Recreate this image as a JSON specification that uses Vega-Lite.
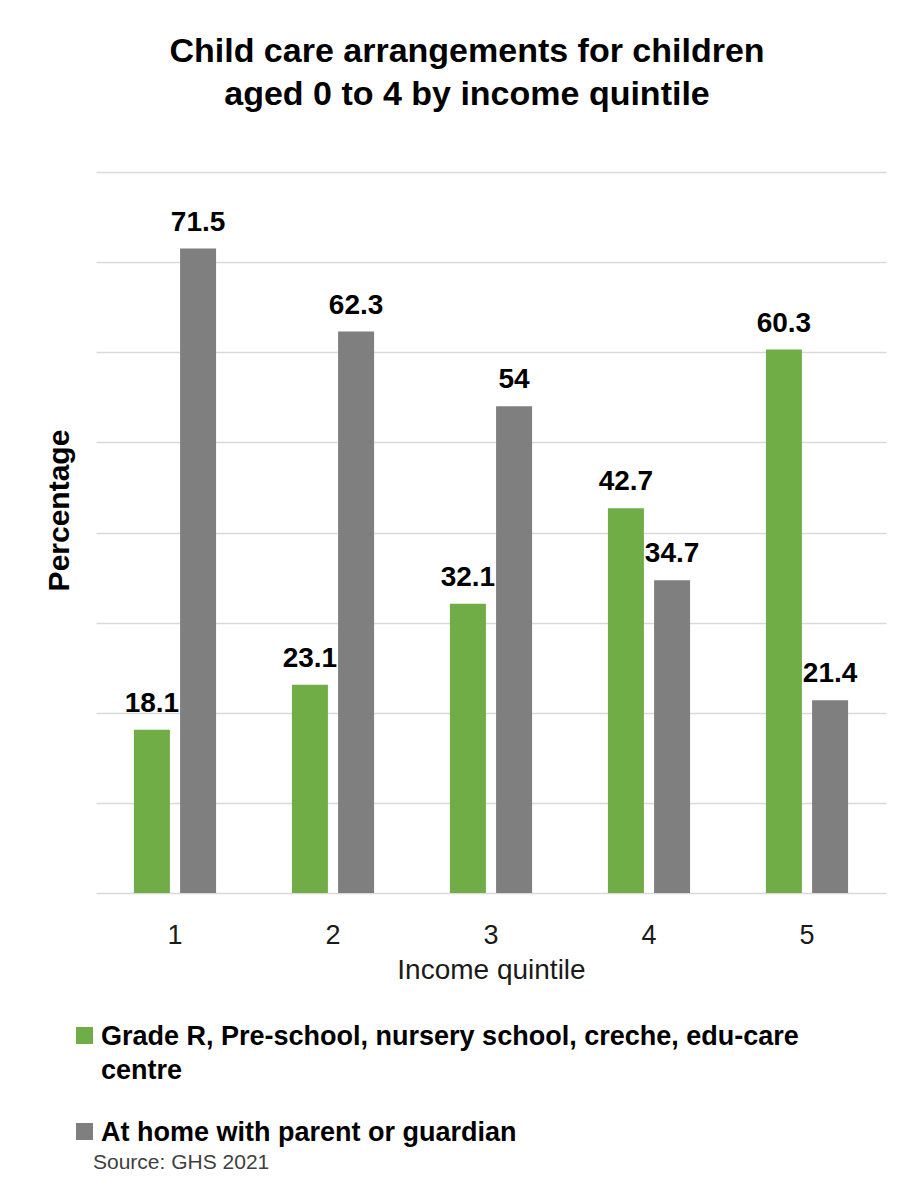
{
  "$schema": "https://vega.github.io/schema/vega-lite/v6.json",
  "width": 790,
  "height": 721,
  "autosize": {"type": "none"},
  "padding": {"left": 96, "top": 172, "right": 18, "bottom": 296},
  "background": "white",
  "config": {"view": {"stroke": null}},
  "title": {
    "text": ["Child care arrangements for children", "aged 0 to 4 by income quintile"],
    "font": "Liberation Sans",
    "fontSize": 34,
    "fontWeight": "bold",
    "color": "#000000",
    "lineHeight": 43,
    "anchor": "middle",
    "frame": "group",
    "dx": -24,
    "offset": 60
  },
  "data": {
    "values": [
      {"quintile": "1", "type": "Grade R, Pre-school, nursery school, creche, edu-care centre", "pct": 18.1},
      {"quintile": "1", "type": "At home with parent or guardian", "pct": 71.5},
      {"quintile": "2", "type": "Grade R, Pre-school, nursery school, creche, edu-care centre", "pct": 23.1},
      {"quintile": "2", "type": "At home with parent or guardian", "pct": 62.3},
      {"quintile": "3", "type": "Grade R, Pre-school, nursery school, creche, edu-care centre", "pct": 32.1},
      {"quintile": "3", "type": "At home with parent or guardian", "pct": 54},
      {"quintile": "4", "type": "Grade R, Pre-school, nursery school, creche, edu-care centre", "pct": 42.7},
      {"quintile": "4", "type": "At home with parent or guardian", "pct": 34.7},
      {"quintile": "5", "type": "Grade R, Pre-school, nursery school, creche, edu-care centre", "pct": 60.3},
      {"quintile": "5", "type": "At home with parent or guardian", "pct": 21.4}
    ]
  },
  "encoding": {
    "x": {
      "field": "quintile",
      "type": "nominal",
      "scale": {"paddingInner": 0.48, "paddingOuter": 0.24},
      "axis": {
        "title": "Income quintile",
        "labelAngle": 0,
        "labelFont": "Liberation Sans",
        "labelFontSize": 27,
        "labelColor": "#1a1a1a",
        "labelPadding": 29,
        "ticks": false,
        "domain": false,
        "titleFont": "Liberation Sans",
        "titleFontSize": 28,
        "titleFontWeight": "normal",
        "titleColor": "#1a1a1a",
        "titlePadding": 8
      }
    },
    "xOffset": {
      "field": "type",
      "type": "nominal",
      "sort": ["Grade R, Pre-school, nursery school, creche, edu-care centre", "At home with parent or guardian"],
      "scale": {"paddingInner": 0.22}
    },
    "y": {
      "field": "pct",
      "type": "quantitative",
      "scale": {"domain": [0, 80]},
      "axis": {
        "title": "Percentage",
        "values": [0, 10, 20, 30, 40, 50, 60, 70, 80],
        "labels": false,
        "ticks": false,
        "domain": false,
        "grid": true,
        "gridColor": "#d9d9d9",
        "gridWidth": 1.5,
        "titleFont": "Liberation Sans",
        "titleFontSize": 30,
        "titleFontWeight": "bold",
        "titleColor": "#000000",
        "titlePadding": 22,
        "titleY": 338
      }
    }
  },
  "layer": [
    {
      "mark": {"type": "bar"},
      "encoding": {
        "color": {
          "field": "type",
          "type": "nominal",
          "sort": ["Grade R, Pre-school, nursery school, creche, edu-care centre", "At home with parent or guardian"],
          "scale": {
            "domain": ["Grade R, Pre-school, nursery school, creche, edu-care centre", "At home with parent or guardian"],
            "range": ["#70ad47", "#7f7f7f"]
          },
          "legend": {
            "orient": "none",
            "legendX": -25,
            "legendY": 850,
            "direction": "vertical",
            "title": "Source: GHS 2021",
            "titleOrient": "bottom",
            "titleAnchor": "start",
            "titleFont": "Liberation Sans",
            "titleFontSize": 21,
            "titleFontWeight": "normal",
            "titleColor": "#404040",
            "titlePadding": 6,
            "symbolType": "square",
            "symbolSize": 289,
            "symbolStrokeWidth": 0,
            "symbolOpacity": 1,
            "labelFont": "Liberation Sans",
            "labelFontSize": 27,
            "labelFontWeight": "bold",
            "labelColor": "#000000",
            "labelLimit": 850,
            "labelOffset": 3,
            "labelBaseline": "alphabetic",
            "rowPadding": 34,
            "padding": 0,
            "labelExpr": "datum.label == 'Grade R, Pre-school, nursery school, creche, edu-care centre' ? ['Grade R, Pre-school, nursery school, creche, edu-care', 'centre'] : datum.label",
            "encode": {
              "labels": {"update": {"dy": {"value": 9}, "lineHeight": {"value": 34}}},
              "title": {"update": {"dx": {"value": 22}}}
            }
          }
        }
      }
    },
    {
      "mark": {
        "type": "text",
        "font": "Liberation Sans",
        "fontSize": 28,
        "fontWeight": "bold",
        "color": "#000000",
        "baseline": "alphabetic",
        "dy": -18
      },
      "encoding": {
        "text": {"field": "pct", "type": "quantitative"}
      }
    }
  ]
}
